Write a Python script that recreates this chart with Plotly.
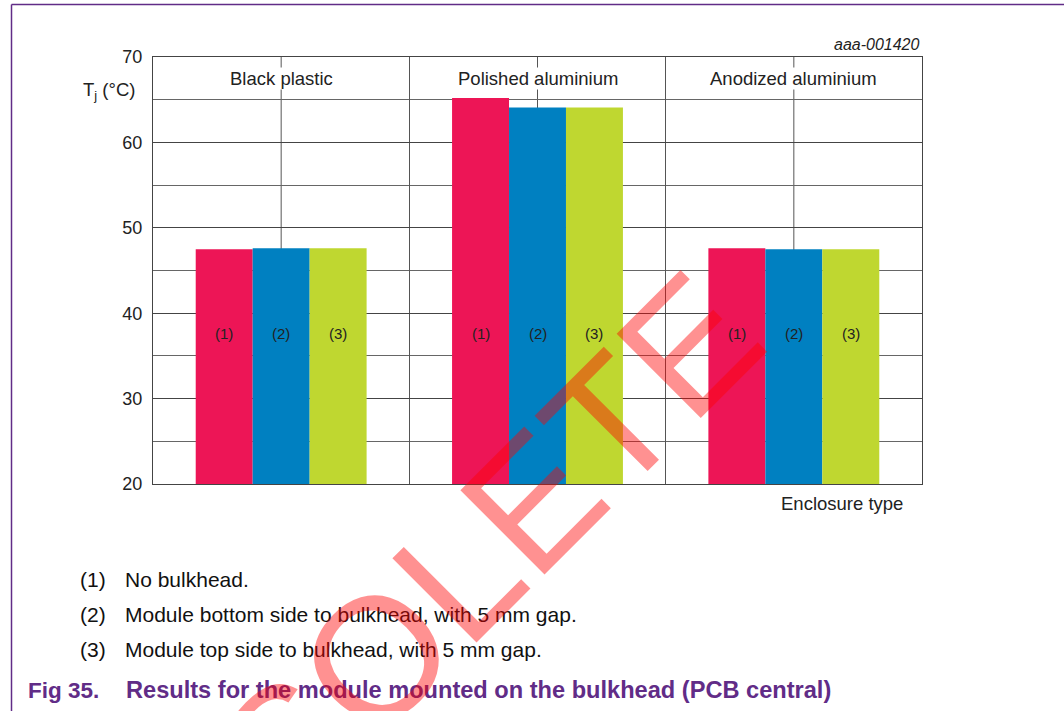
import plotly.graph_objects as go

# Junction temperature per enclosure type and mounting option
categories = ["Black plastic", "Polished aluminium", "Anodized aluminium"]
series_names = ["(1)", "(2)", "(3)"]
tj_no_bulkhead = [47.5, 65.2, 47.6]
tj_bottom_to_bulkhead = [47.6, 64.1, 47.5]
tj_top_to_bulkhead = [47.6, 64.1, 47.5]
series_values = [tj_no_bulkhead, tj_bottom_to_bulkhead, tj_top_to_bulkhead]
series_colors = ["#ED1556", "#0080C1", "#BFD730"]

y_ticks = [20, 30, 40, 50, 60, 70]
notes = [
    "No bulkhead.",
    "Module bottom side to bulkhead, with 5 mm gap.",
    "Module top side to bulkhead, with 5 mm gap.",
]
caption_no = "Fig 35."
caption_text = "Results for the module mounted on the bulkhead (PCB central)"
drawing_id = "aaa-001420"
watermark = "OBSOLETE"

FONT = "Liberation Sans, Arial, sans-serif"
PURPLE = "#612C87"
W, H = 1064, 711
L, R, T, B = 153, 922, 57, 484
BAR_GAP = 1 / 3


def px(x):
    return (x - L) / (R - L)


def py(y):
    return (B - y) / (B - T)


fig = go.Figure()
for name, vals, col in zip(series_names, series_values, series_colors):
    fig.add_trace(go.Bar(
        x=categories, y=vals, name=name,
        marker=dict(color=col, line=dict(width=0)),
        hoverinfo="x+y",
    ))

# Series tags inside the bars, at a fixed height
bar_w = (1 - BAR_GAP) / len(series_names)
for i, _ in enumerate(categories):
    for j, name in enumerate(series_names):
        fig.add_annotation(
            x=i + (j - 1) * bar_w, y=37.6, xref="x", yref="y",
            text=name, showarrow=False,
            font=dict(family=FONT, size=15, color="#222"),
        )

# Category centre lines
for cat in categories:
    fig.add_shape(type="line", x0=cat, x1=cat, y0=0, y1=1,
                  xref="x", yref="y domain", layer="below",
                  line=dict(color="#555", width=1))

# Category headings inside the top band
for cat in categories:
    fig.add_annotation(
        x=cat, y=67.5, xref="x", yref="y", text=cat, showarrow=False,
        bgcolor="white", borderpad=0,
        font=dict(family=FONT, size=18.5, color="#222"),
    )

fig.add_annotation(
    x=px(137), y=py(91), xref="paper", yref="paper",
    xanchor="right", yanchor="middle", showarrow=False,
    text="T<sub>j</sub> (°C)", font=dict(family=FONT, size=18.5, color="#222"),
)
fig.add_annotation(
    x=px(905), y=py(503), xref="paper", yref="paper",
    xanchor="right", yanchor="middle", showarrow=False,
    text="Enclosure type", font=dict(family=FONT, size=18.5, color="#222"),
)
fig.add_annotation(
    x=px(922), y=py(45), xref="paper", yref="paper",
    xanchor="right", yanchor="middle", showarrow=False,
    text=f"<i>{drawing_id}</i>", font=dict(family=FONT, size=16, color="#222"),
)

# Notes below the chart
for k, (name, note) in enumerate(zip(series_names, notes)):
    yy = 579 + 35 * k
    fig.add_annotation(x=px(78), y=py(yy), xref="paper", yref="paper",
                       xanchor="left", yanchor="middle", showarrow=False,
                       text=name, font=dict(family=FONT, size=21, color="#111"))
    fig.add_annotation(x=px(123), y=py(yy), xref="paper", yref="paper",
                       xanchor="left", yanchor="middle", showarrow=False,
                       text=note, font=dict(family=FONT, size=21, color="#111"))

# Caption
fig.add_annotation(x=px(26), y=py(690), xref="paper", yref="paper",
                   xanchor="left", yanchor="middle", showarrow=False,
                   text=f"<b>{caption_no}</b>",
                   font=dict(family=FONT, size=22.5, color=PURPLE))
fig.add_annotation(x=px(124), y=py(690), xref="paper", yref="paper",
                   xanchor="left", yanchor="middle", showarrow=False,
                   text=f"<b>{caption_text}</b>",
                   font=dict(family=FONT, size=23.6, color=PURPLE))

# Page frame lines
fig.add_shape(type="line", xref="paper", yref="paper",
              x0=px(11.5), x1=px(W), y0=py(4.5), y1=py(4.5),
              line=dict(color=PURPLE, width=1.5))
fig.add_shape(type="line", xref="paper", yref="paper",
              x0=px(11.5), x1=px(11.5), y0=py(4.5), y1=py(H),
              line=dict(color=PURPLE, width=1.5))

# Diagonal status stamp
fig.add_annotation(x=px(400), y=py(634), xref="paper", yref="paper",
                   xanchor="center", yanchor="middle", showarrow=False,
                   text=watermark, textangle=-45,
                   font=dict(family=FONT, size=173, color="rgba(255,0,0,0.43)"))

fig.update_layout(
    width=W, height=H,
    margin=dict(l=L, r=W - R, t=T, b=H - B, pad=0),
    paper_bgcolor="white", plot_bgcolor="white",
    barmode="group", bargap=BAR_GAP, bargroupgap=0,
    showlegend=False,
    font=dict(family=FONT, color="#222"),
    xaxis=dict(
        type="category", categoryorder="array", categoryarray=categories,
        tickson="boundaries", showgrid=True, gridcolor="#555", gridwidth=1,
        showticklabels=False, ticks="",
        showline=True, mirror=True, linecolor="#444", linewidth=1,
        zeroline=False, fixedrange=True,
    ),
    yaxis=dict(
        range=[20, 70], tickvals=y_ticks, ticks="",
        showgrid=True, gridcolor="#444", gridwidth=1,
        minor=dict(dtick=5, tick0=20, showgrid=True, gridcolor="#666", gridwidth=1),
        showline=True, mirror=True, linecolor="#444", linewidth=1,
        zeroline=False, ticklabelstandoff=6,
        tickfont=dict(family=FONT, size=18, color="#222"),
        fixedrange=True,
    ),
)

fig.write_html("out.html", config={"displayModeBar": False})
